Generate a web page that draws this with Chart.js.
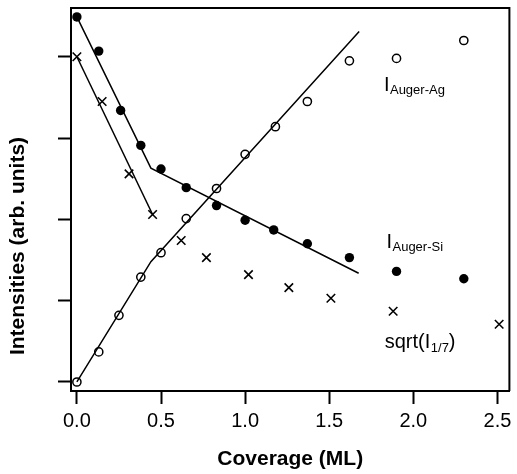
<!DOCTYPE html>
<html><head><meta charset="utf-8">
<script src="https://cdn.jsdelivr.net/npm/chart.js@4"></script>
<style>html,body{margin:0;padding:0;background:#fff}canvas{display:block}</style>
</head><body>
<canvas id="c" width="517" height="474"></canvas>
<script>
// ---- data ----
const siX = [0.00, 0.13, 0.26, 0.38, 0.50, 0.65, 0.83, 1.00, 1.17, 1.37, 1.62, 1.90, 2.30];
const siY = [4.49, 4.07, 3.34, 2.91, 2.62, 2.39, 2.17, 1.99, 1.87, 1.70, 1.53, 1.36, 1.27];
const agX = [0.00, 0.13, 0.25, 0.38, 0.50, 0.65, 0.83, 1.00, 1.18, 1.37, 1.62, 1.90, 2.30];
const agY = [0.00, 0.37, 0.82, 1.29, 1.59, 2.01, 2.38, 2.80, 3.14, 3.45, 3.95, 3.98, 4.20];
const sqX = [0.00, 0.15, 0.31, 0.45, 0.62, 0.77, 1.02, 1.26, 1.51, 1.88, 2.51];
const sqY = [4.00, 3.45, 2.56, 2.06, 1.74, 1.53, 1.32, 1.16, 1.03, 0.87, 0.71];
// fitted lines (break points)
const siFitX = [0.00, 0.44, 1.675];
const siFitY = [4.49, 2.63, 1.337];
const agFitX = [0.00, 0.44, 1.678];
const agFitY = [0.00, 1.48, 4.31];
const sqFitX = [0.00, 0.45];
const sqFitY = [4.00, 2.06];
const xTickLabels = ['0.0', '0.5', '1.0', '1.5', '2.0', '2.5'];
const xTitle = 'Coverage (ML)';
const yTitle = 'Intensities (arb. units)';
const labelTexts = [
  {main: 'I', sub: 'Auger-Ag', tail: ''},
  {main: 'I', sub: 'Auger-Si', tail: ''},
  {main: 'sqrt(I', sub: '1/7', tail: ')'}
];

const pts = (xs, ys) => xs.map((x, i) => ({x, y: ys[i]}));
const FONT = '"Liberation Sans", Arial, Helvetica, sans-serif';

// label anchors in data coordinates (left, baseline)
const labelAnchors = [{x: 1.825, y: 3.58}, {x: 1.84, y: 1.65}, {x: 1.83, y: 0.415}];

const framePlugin = {
  id: 'frame',
  afterDraw(chart) {
    const {ctx, chartArea: a, scales} = chart;
    ctx.save();
    ctx.strokeStyle = '#000';
    ctx.lineWidth = 2;
    ctx.beginPath();
    ctx.moveTo(a.left, a.top); ctx.lineTo(a.right, a.top); ctx.lineTo(a.right, a.bottom);
    ctx.stroke();
    // y axis title
    ctx.fillStyle = '#000';
    ctx.font = 'bold 21px ' + FONT;
    ctx.textAlign = 'center';
    ctx.textBaseline = 'middle';
    ctx.translate(18.5, 246);
    ctx.rotate(-Math.PI / 2);
    ctx.fillText(yTitle, 0, 0);
    ctx.restore();
    // series labels
    ctx.save();
    ctx.fillStyle = '#000';
    ctx.textBaseline = 'alphabetic';
    ctx.textAlign = 'left';
    labelTexts.forEach((t, i) => {
      let px = scales.x.getPixelForValue(labelAnchors[i].x);
      const py = scales.y.getPixelForValue(labelAnchors[i].y);
      ctx.font = '20px ' + FONT;
      ctx.fillText(t.main, px, py);
      px += ctx.measureText(t.main).width + 0.5;
      ctx.font = '13px ' + FONT;
      ctx.fillText(t.sub, px, py + 3.5);
      px += ctx.measureText(t.sub).width;
      if (t.tail) {
        ctx.font = '20px ' + FONT;
        ctx.fillText(t.tail, px, py);
      }
    });
    ctx.restore();
  }
};

const lineDs = (data) => ({
  data, showLine: true, borderColor: '#000', borderWidth: 1.5, pointRadius: 0,
  fill: false, tension: 0, order: 2
});

new Chart(document.getElementById('c'), {
  type: 'scatter',
  data: {
    datasets: [
      lineDs(pts(siFitX, siFitY)),
      lineDs(pts(agFitX, agFitY)),
      lineDs(pts(sqFitX, sqFitY)),
      {data: pts(siX, siY), pointStyle: 'circle', pointRadius: 4.7, backgroundColor: '#000', borderColor: '#000', borderWidth: 0, order: 1},
      {data: pts(agX, agY), pointStyle: 'circle', pointRadius: 4.1, backgroundColor: 'rgba(0,0,0,0)', borderColor: '#000', borderWidth: 1.5, order: 1},
      {data: pts(sqX, sqY), pointStyle: 'crossRot', pointRadius: 6, backgroundColor: '#000', borderColor: '#000', borderWidth: 1.6, order: 1}
    ]
  },
  options: {
    responsive: false,
    devicePixelRatio: 1,
    animation: false,
    events: [],
    layout: {padding: {top: 8, right: 4, left: 0, bottom: 0}},
    plugins: {legend: {display: false}, tooltip: {enabled: false}},
    scales: {
      x: {
        type: 'linear', min: -0.035, max: 2.571,
        afterFit(s) { s.height = 83; },
        border: {display: true, color: '#000', width: 2},
        grid: {drawOnChartArea: false, drawTicks: true, tickLength: 13, tickColor: '#000', tickWidth: 2},
        ticks: {
          stepSize: 0.5, includeBounds: false, color: '#000', padding: 5, maxRotation: 0,
          font: {family: FONT, size: 20},
          callback: (v) => xTickLabels[Math.round(v / 0.5)] ?? ''
        },
        title: {display: true, text: xTitle, color: '#000', font: {family: FONT, size: 21, weight: 'bold'}, padding: {top: 0, bottom: 2}}
      },
      y: {
        type: 'linear', min: -0.111, max: 4.6,
        afterFit(s) { s.width = 71; },
        border: {display: true, color: '#000', width: 2},
        grid: {drawOnChartArea: false, drawTicks: true, tickLength: 13, tickColor: '#000', tickWidth: 2},
        ticks: {stepSize: 1, includeBounds: false, display: false}
      }
    }
  },
  plugins: [framePlugin]
});
</script>
</body></html>
